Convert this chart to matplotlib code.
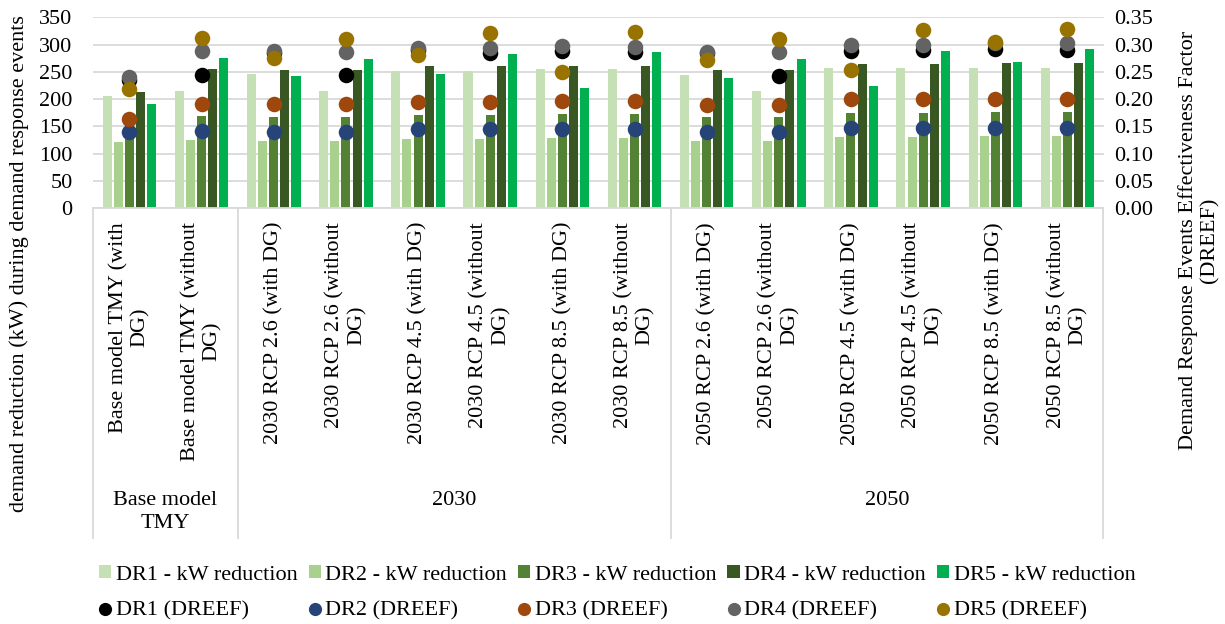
import numpy as np
import matplotlib
matplotlib.use("Agg")
import matplotlib.pyplot as plt
from matplotlib.lines import Line2D
from matplotlib.patches import Patch
import matplotlib.transforms as mtransforms

plt.rcParams['font.family'] = ['Liberation Serif', 'DejaVu Serif']
plt.rcParams['font.size'] = 16

# Scenario labels (one per category) and their groups
categories = [
    "Base model TMY (with\nDG)", "Base model TMY (without\nDG)",
    "2030 RCP 2.6 (with DG)", "2030 RCP 2.6 (without\nDG)",
    "2030 RCP 4.5 (with DG)", "2030 RCP 4.5 (without\nDG)",
    "2030 RCP 8.5 (with DG)", "2030 RCP 8.5 (without\nDG)",
    "2050 RCP 2.6 (with DG)", "2050 RCP 2.6 (without\nDG)",
    "2050 RCP 4.5 (with DG)", "2050 RCP 4.5 (without\nDG)",
    "2050 RCP 8.5 (with DG)", "2050 RCP 8.5 (without\nDG)",
]
group_names = ["Base model\nTMY", "2030", "2050"]
group_sizes = [2, 6, 6]

# kW reduction during demand response events
dr1_kw = [206, 215, 246, 215, 252, 252, 255, 255, 245, 215, 257, 257, 258, 258]
dr2_kw = [122, 126, 123, 123, 127, 127, 128, 128, 123, 123, 131, 131, 132, 132]
dr3_kw = [137, 169, 168, 168, 171, 171, 173, 173, 167, 167, 175, 175, 176, 176]
dr4_kw = [214, 255, 253, 253, 260, 260, 261, 261, 253, 253, 265, 265, 267, 267]
dr5_kw = [192, 275, 243, 274, 247, 283, 221, 286, 239, 274, 224, 288, 269, 291]

# Demand Response Events Effectiveness Factor
dr1_dreef = [0.235, 0.244, 0.284, 0.244, 0.290, 0.284, 0.288, 0.287, 0.284, 0.242, 0.288, 0.290, 0.291, 0.290]
dr2_dreef = [0.139, 0.142, 0.140, 0.140, 0.145, 0.145, 0.145, 0.145, 0.140, 0.140, 0.148, 0.148, 0.148, 0.148]
dr3_dreef = [0.164, 0.191, 0.191, 0.191, 0.194, 0.194, 0.197, 0.197, 0.189, 0.189, 0.200, 0.200, 0.200, 0.200]
dr4_dreef = [0.240, 0.288, 0.289, 0.287, 0.294, 0.293, 0.297, 0.296, 0.287, 0.287, 0.299, 0.299, 0.302, 0.302]
dr5_dreef = [0.218, 0.312, 0.276, 0.310, 0.280, 0.321, 0.250, 0.323, 0.271, 0.310, 0.253, 0.326, 0.305, 0.329]

kw_series = [dr1_kw, dr2_kw, dr3_kw, dr4_kw, dr5_kw]
dreef_series = [dr1_dreef, dr2_dreef, dr3_dreef, dr4_dreef, dr5_dreef]
bar_names = ["DR1 - kW reduction", "DR2 - kW reduction", "DR3 - kW reduction",
             "DR4 - kW reduction", "DR5 - kW reduction"]
dot_names = ["DR1 (DREEF)", "DR2 (DREEF)", "DR3 (DREEF)", "DR4 (DREEF)", "DR5 (DREEF)"]
bar_colors = ["#C5E0B4", "#A9D18E", "#548235", "#385723", "#00B050"]
dot_colors = ["#000000", "#264478", "#9E480E", "#636363", "#997300"]

W, H = 1225, 624
fig = plt.figure(figsize=(W / 100, H / 100), dpi=100)
left_px, right_px, top_px, bottom_px = 93.4, 1103.5, 17.3, 208.3
ax = fig.add_axes([left_px / W, 1 - bottom_px / H,
                   (right_px - left_px) / W, (bottom_px - top_px) / H])

x = np.arange(len(categories))
bar_w = 0.125
step = 0.154
for i, (vals, c, name) in enumerate(zip(kw_series, bar_colors, bar_names)):
    ax.bar(x + (i - 2) * step, vals, width=bar_w, color=c, label=name, zorder=2)

ax.set_xlim(-0.5, len(categories) - 0.5)
ax.set_ylim(0, 350)
ax.set_yticks(np.arange(0, 351, 50))
ax.yaxis.grid(True, color="#D9D9D9", linewidth=1.3)
ax.set_axisbelow(True)
ax.set_xticks([])
for s in ["top", "left", "right"]:
    ax.spines[s].set_visible(False)
ax.spines["bottom"].set_color("#D9D9D9")
ax.spines["bottom"].set_linewidth(1.3)
ax.tick_params(axis="y", length=0, pad=15)

ax2 = ax.twinx()
ax2.set_ylim(0, 0.35)
ax2.set_yticks(np.arange(0, 0.351, 0.05))
ax2.set_yticklabels([f"{v:.2f}" for v in np.arange(0, 0.351, 0.05)])
ax2.tick_params(axis="y", length=0, pad=8)
for s in ax2.spines.values():
    s.set_visible(False)
for vals, c, name in zip(dreef_series, dot_colors, dot_names):
    ax2.scatter(x, vals, s=125, color=c, label=name, zorder=3, linewidths=0)

# Category axis: rotated scenario labels, group labels and separators
trans = mtransforms.blended_transform_factory(ax.transData, ax.transAxes)
ax_h = bottom_px - top_px
def ypx(py):
    return (bottom_px - py) / ax_h

for xi, lab in zip(x, categories):
    ax.text(xi, ypx(222), lab, transform=trans, rotation=90, ha="center", va="top",
            multialignment="center", fontsize=16, clip_on=False)

edges = np.concatenate([[0], np.cumsum(group_sizes)]) - 0.5
for e in edges:
    ax.plot([e, e], [0, ypx(538)], transform=trans, color="#D9D9D9", lw=1.3,
            clip_on=False, zorder=1)
for gname, a, b in zip(group_names, edges[:-1], edges[1:]):
    ax.text((a + b) / 2, ypx(491), gname, transform=trans, ha="center", va="top",
            multialignment="center", fontsize=16, clip_on=False, linespacing=1.25)

fig.text(19 / W, 1 - 264 / H, "demand reduction (kW) during demand response events",
         rotation=90, ha="center", va="center", fontsize=16)
fig.text(1199 / W, 1 - 240 / H, "Demand Response Events Effectiveness Factor\n(DREEF)",
         rotation=90, ha="center", va="center", multialignment="center",
         fontsize=16, linespacing=1.15)

# Legend: bars on the first row, markers on the second
handles, labels = [], []
for bc, bn, dc, dn in zip(bar_colors, bar_names, dot_colors, dot_names):
    handles.append(Patch(facecolor=bc, edgecolor="none"))
    labels.append(bn)
    handles.append(Line2D([], [], linestyle="none", marker="o", markersize=9.5,
                          markerfacecolor=dc, markeredgewidth=0))
    labels.append(dn)
fig.legend(handles, labels, ncol=5, frameon=False, loc="upper left",
           bbox_to_anchor=(99 / W, 1 - 565 / H), borderpad=0, borderaxespad=0,
           handlelength=0.55, handleheight=0.55, handletextpad=0.2,
           columnspacing=0.5, labelspacing=0.75, fontsize=16)

fig.savefig("out.png", dpi=100)
